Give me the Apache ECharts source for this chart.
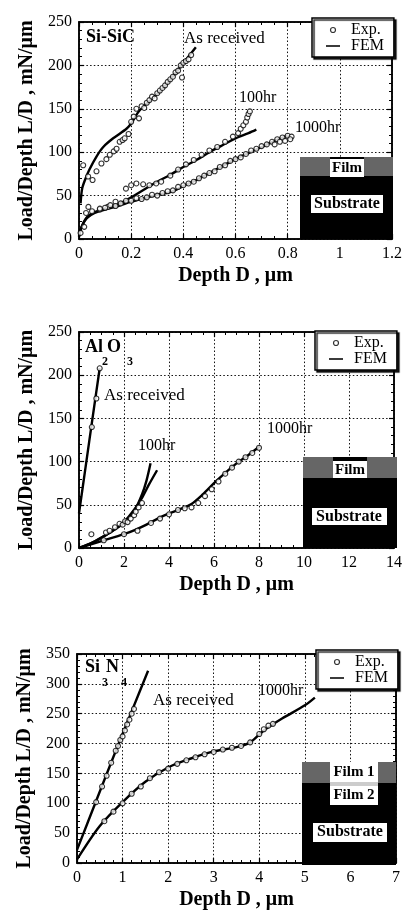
<!DOCTYPE html>
<html>
<head>
<meta charset="utf-8">
<script src="https://cdn.jsdelivr.net/npm/echarts@6/dist/echarts.min.js"></script>
<style>
html,body{margin:0;padding:0;background:#fff;}
#chart{width:405px;height:911px;}
</style>
</head>
<body>
<div id="chart"></div>
<script>
// ---------- Data ----------
// Panel 1: Si-SiC  (Depth µm, Load/Depth mN/µm)
const sicArFem = [[0.006,41],[0.012,58],[0.023,68],[0.04,80],[0.067,95],[0.093,106],[0.131,116],[0.182,127],[0.2,133],[0.232,148],[0.296,166],[0.34,180],[0.385,197],[0.448,221]];
const sicArExp = [[0.016,85],[0.035,72],[0.052,68],[0.067,78],[0.086,87],[0.105,92],[0.118,97],[0.133,101],[0.144,104],[0.156,112],[0.167,114],[0.175,116],[0.19,121],[0.2,135],[0.21,141],[0.22,150],[0.23,139],[0.24,153],[0.25,151],[0.26,157],[0.27,160],[0.28,164],[0.29,162],[0.3,168],[0.31,171],[0.32,174],[0.33,177],[0.34,181],[0.35,184],[0.36,187],[0.37,192],[0.38,194],[0.39,200],[0.395,186],[0.4,203],[0.41,205],[0.42,207],[0.43,212]];
const sic100Fem = [[0,3],[0.01,14],[0.03,25],[0.06,31],[0.1,35],[0.15,40],[0.2,48],[0.25,57],[0.3,66],[0.35,74],[0.4,83],[0.45,91],[0.5,100],[0.55,108],[0.6,116],[0.65,122],[0.68,126]];
const sic100Exp = [[0.006,7],[0.02,14],[0.027,30],[0.036,37],[0.08,34],[0.11,37],[0.14,43],[0.18,58],[0.2,62],[0.22,64],[0.246,63],[0.27,62],[0.296,64],[0.315,66],[0.35,73],[0.38,80],[0.41,86],[0.44,91],[0.47,97],[0.5,102],[0.53,106],[0.56,112],[0.59,118],[0.61,122],[0.62,127],[0.63,131],[0.64,135],[0.645,140],[0.65,144],[0.655,147]];
const sic1000Fem = [[0,3],[0.01,14],[0.03,24],[0.06,30],[0.1,34],[0.15,38],[0.2,43],[0.25,47],[0.3,51],[0.35,54],[0.4,61],[0.45,68],[0.5,76],[0.55,84],[0.6,92],[0.65,99],[0.7,106],[0.75,113],[0.8,119]];
const sic1000Exp = [[0.05,32],[0.08,35],[0.1,36],[0.12,39],[0.14,38],[0.16,41],[0.18,44],[0.2,44],[0.22,47],[0.24,46],[0.26,48],[0.28,51],[0.3,50],[0.32,53],[0.34,55],[0.36,56],[0.38,60],[0.4,62],[0.42,64],[0.44,66],[0.46,70],[0.48,73],[0.5,76],[0.52,78],[0.54,83],[0.56,85],[0.58,90],[0.6,92],[0.62,94],[0.64,98],[0.66,102],[0.68,104],[0.7,107],[0.72,109],[0.74,112],[0.76,115],[0.78,117],[0.8,119],[0.815,118],[0.81,115],[0.79,113],[0.77,112],[0.75,109]];

// Panel 2: Al2O3
const alArFem = [[0,40],[0.3,95],[0.6,150],[0.92,208]];
const alArExp = [[0.57,140],[0.77,173],[0.92,208]];
const al100FemA = [[0,0],[0.5,5],[1,12],[1.5,20],[2,29],[2.5,45],[2.8,62],[3.0,78],[3.18,98]];
const al100FemB = [[0,0],[0.5,5],[1,12],[1.5,20],[2,30],[2.5,46],[2.8,58],[3.1,73],[3.47,90]];
const al100Exp = [[0.55,16],[1.2,18],[1.36,20],[1.6,24],[1.8,28],[1.94,27],[2.05,31],[2.16,30],[2.3,34],[2.45,38],[2.52,42],[2.65,47],[2.8,52]];
const al1000Fem = [[0,0],[1,8],[2,16],[2.5,21],[3,27],[3.5,34],[4,40],[4.5,45],[5,51],[5.5,62],[6,75],[6.5,87],[7,98],[7.5,107],[8.05,118]];
const al1000Exp = [[1.1,9],[2.0,16],[2.6,20],[3.2,29],[3.6,34],[4.0,39],[4.4,44],[4.7,46],[5.0,47],[5.3,52],[5.6,60],[5.9,68],[6.2,77],[6.5,86],[6.8,93],[7.1,100],[7.4,105],[7.7,110],[8.0,116]];

// Panel 3: Si3N4
const snArFem = [[0,22],[0.4,100],[0.8,178],[1.2,254],[1.56,322]];
const snArExp = [[0.42,102],[0.55,128],[0.65,146],[0.75,168],[0.85,188],[0.9,196],[0.95,206],[1.0,212],[1.05,222],[1.1,232],[1.15,240],[1.2,250],[1.25,258]];
const sn1000Fem = [[0,6],[0.5,62],[1.0,102],[1.5,136],[2.0,160],[2.5,175],[3.0,187],[3.5,194],[3.8,202],[4.1,222],[4.5,242],[5.0,264],[5.22,277]];
const sn1000Exp = [[0.6,70],[0.8,86],[1.0,100],[1.2,116],[1.4,128],[1.6,142],[1.8,152],[2.0,158],[2.2,166],[2.4,172],[2.6,177],[2.8,182],[3.0,186],[3.2,190],[3.4,193],[3.6,196],[3.8,202],[4.0,216],[4.1,224],[4.2,230],[4.3,233]];

// Axis ranges / tick intervals
const xRanges = [[0,1.2,0.2,4],[0,14,2,4],[0,7,1,5]];
const yRanges = [[0,250,50,5],[0,250,50,5],[0,350,50,5]];
const xTitle = 'Depth D , μm';
const yTitle = 'Load/Depth L/D , mN/μm';
const legendNames = ['Exp.','FEM'];

// ---------- Layout / style ----------
const FONT = '"Liberation Serif","Times New Roman",serif';
const grids = [
  {left:79, top:22, width:314, height:217},
  {left:79, top:332, width:319, height:216},
  {left:77, top:654, width:319, height:211}
];

const xAxes = [], yAxes = [];
grids.forEach((g, i) => {
  const [xmin,xmax,xint,xminor] = xRanges[i];
  const [ymin,ymax,yint,yminor] = yRanges[i];
  const tick = {show:true, inside:true, length:5, lineStyle:{color:'#000', width:1.2}};
  const minor = (n)=>({show:true, splitNumber:n, length:3, lineStyle:{color:'#000', width:1}});
  const line = {show:true, onZero:false, lineStyle:{color:'#000', width:1.5}};
  const split = {show:true, lineStyle:{color:'#111', width:1, type:[1.5,2.2]}};
  xAxes.push({type:'value', gridIndex:i, min:xmin, max:xmax, interval:xint, position:'bottom',
    axisLine:line, axisTick:tick, minorTick:minor(xminor), splitLine:split,
    axisLabel:{color:'#000', fontFamily:FONT, fontSize:16, margin:7},
    name:xTitle, nameLocation:'middle', nameGap:27,
    nameTextStyle:{color:'#000', fontFamily:FONT, fontSize:20, fontWeight:'bold'}});
  xAxes.push({type:'value', gridIndex:i, min:xmin, max:xmax, interval:xint, position:'top',
    axisLine:line, axisTick:tick, minorTick:minor(xminor), splitLine:{show:false}, axisLabel:{show:false}});
  yAxes.push({type:'value', gridIndex:i, min:ymin, max:ymax, interval:yint, position:'left',
    axisLine:line, axisTick:tick, minorTick:minor(yminor), splitLine:split,
    axisLabel:{color:'#000', fontFamily:FONT, fontSize:16, margin:7},
    name:yTitle, nameLocation:'middle', nameGap:41,
    nameTextStyle:{color:'#000', fontFamily:FONT, fontSize:20, fontWeight:'bold'}});
  yAxes.push({type:'value', gridIndex:i, min:ymin, max:ymax, interval:yint, position:'right',
    axisLine:line, axisTick:tick, minorTick:minor(yminor), splitLine:{show:false}, axisLabel:{show:false}});
});

function fem(panel, data){
  return {type:'line', name:'FEM', xAxisIndex:panel*2, yAxisIndex:panel*2, data:data,
    showSymbol:false, smooth:0.3, lineStyle:{color:'#000', width:2.4}, itemStyle:{color:'#000'},
    z:3, silent:true};
}
function exp(panel, data){
  return {type:'scatter', name:'Exp.', xAxisIndex:panel*2, yAxisIndex:panel*2, data:data,
    symbol:'circle', symbolSize:5, itemStyle:{color:'#fff', borderColor:'#000', borderWidth:1.1}, z:4};
}

const series = [
  fem(0,sicArFem), fem(0,sic100Fem), fem(0,sic1000Fem),
  exp(0,sicArExp), exp(0,sic100Exp), exp(0,sic1000Exp),
  fem(1,alArFem), fem(1,al100FemA), fem(1,al100FemB), fem(1,al1000Fem),
  exp(1,alArExp), exp(1,al100Exp), exp(1,al1000Exp),
  fem(2,snArFem), fem(2,sn1000Fem),
  exp(2,snArExp), exp(2,sn1000Exp)
];

const legendPos = [{left:312, top:18},{left:315, top:331},{left:316, top:650}];
const legends = legendPos.map(p => ({
  left:p.left, top:p.top, orient:'vertical', itemGap:0, itemWidth:14, itemHeight:5,
  padding:[4,10,3,14], backgroundColor:'#fff', borderColor:'#000', borderWidth:1.5,
  shadowColor:'rgba(0,0,0,0.85)', shadowBlur:1, shadowOffsetX:2, shadowOffsetY:2,
  selectedMode:false,
  textStyle:{color:'#000', fontFamily:FONT, fontSize:16, padding:[0,0,0,6]},
  data:[
    {name:legendNames[0], icon:'circle', itemStyle:{color:'#fff', borderColor:'#000', borderWidth:1.2}},
    {name:legendNames[1], icon:'path://M0,0L20,0L20,2.2L0,2.2Z', itemStyle:{color:'#000'}}
  ]
}));

function txt(x, y, s, size, bold, align){
  return {type:'text', x:x, y:y, z:100, silent:true,
    style:{text:s, fill:'#000', fontFamily:FONT, fontSize:size, fontWeight:bold?'bold':'normal',
      align:align||'left', verticalAlign:'middle'}};
}
function box(x, y, w, h, fill){
  return {type:'rect', z:99, silent:true, shape:{x:x, y:y, width:w, height:h}, style:{fill:fill}};
}

const graphics = [
  // Panel 1 annotations
  txt(86,37,'Si-SiC',18,true), txt(184,39,'As received',17), txt(239,98,'100hr',16), txt(295,128,'1000hr',16),
  // Panel 1 inset
  box(300,157,93,82,'#000'), box(300,157,30,19,'#666'), box(364,157,29,19,'#666'),
  box(330,159,34,18,'#fff'), txt(347,168,'Film',15,true,'center'),
  box(311,195,72,18,'#fff'), txt(347,204,'Substrate',16,true,'center'),
  // Panel 2 annotations
  txt(85,347,'Al',18,true), txt(102,362,'2',12,true), txt(107,347,'O',18,true), txt(127,362,'3',12,true),
  txt(104,396,'As received',17), txt(138,446,'100hr',16), txt(267,429,'1000hr',16),
  // Panel 2 inset
  box(303,457,94,91,'#000'), box(303,457,30,21,'#666'), box(367,457,30,21,'#666'),
  box(333,461,34,17,'#fff'), txt(350,470,'Film',15,true,'center'),
  box(312,508,75,17,'#fff'), txt(349,517,'Substrate',16,true,'center'),
  // Panel 3 annotations
  txt(85,667,'Si',18,true), txt(102,683,'3',12,true), txt(106,667,'N',18,true), txt(121,683,'4',12,true),
  txt(153,701,'As received',17), txt(258,691,'1000hr',16),
  // Panel 3 inset
  box(302,762,94,103,'#000'), box(302,762,28,21,'#666'), box(378,762,18,21,'#666'),
  box(330,762,48,43,'#fff'), box(330,782,48,4,'#ccc'),
  txt(354,772,'Film 1',15,true,'center'), txt(354,795,'Film 2',15,true,'center'),
  box(313,823,74,19,'#fff'), txt(350,832,'Substrate',16,true,'center')
];

const chart = echarts.init(document.getElementById('chart'), null, {renderer:'canvas', width:405, height:911});
chart.setOption({
  backgroundColor:'#fff',
  animation:false,
  grid: grids.map(g => Object.assign({show:true, borderColor:'#000', borderWidth:1.5, backgroundColor:'transparent'}, g)),
  xAxis: xAxes,
  yAxis: yAxes,
  legend: legends,
  series: series,
  graphic: graphics
});
</script>
</body>
</html>
